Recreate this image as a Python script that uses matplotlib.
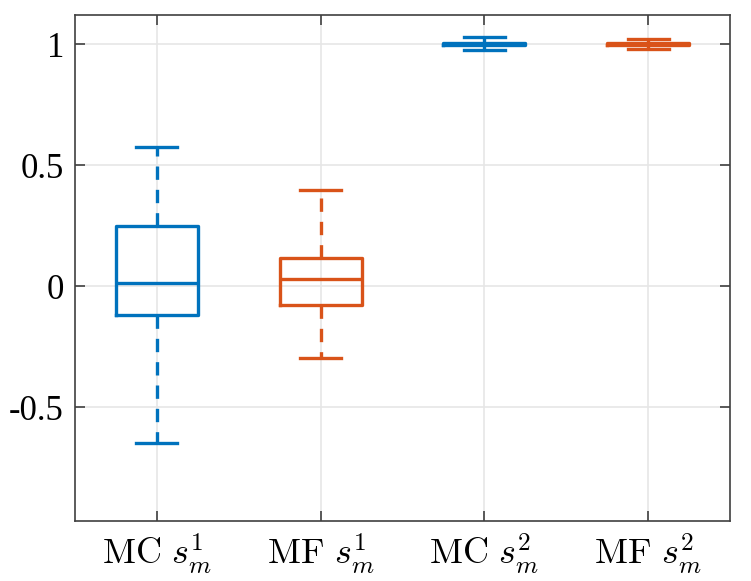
import matplotlib
matplotlib.use("Agg")
from matplotlib import pyplot as plt

# box statistics
labels = [r"$\mathrm{MC}\ s_m^1$", r"$\mathrm{MF}\ s_m^1$",
          r"$\mathrm{MC}\ s_m^2$", r"$\mathrm{MF}\ s_m^2$"]
whislo = [-0.649, -0.295, 0.975, 0.979]
q1 = [-0.120, -0.076, 0.996, 0.997]
med = [0.012, 0.031, 1.000, 1.000]
q3 = [0.248, 0.116, 1.004, 1.003]
whishi = [0.574, 0.397, 1.029, 1.020]
colores = ["#0072BD", "#D95319", "#0072BD", "#D95319"]

plt.rcParams["mathtext.fontset"] = "cm"
plt.rcParams["font.family"] = ["Liberation Serif", "DejaVu Serif"]

fig = plt.figure(figsize=(7.51, 5.81), dpi=100)
ax = fig.add_axes([0.0999, 0.1033, 0.8722, 0.8709])

stats = []
for i in range(len(labels)):
    stats.append(dict(whislo=whislo[i], q1=q1[i], med=med[i], q3=q3[i],
                      whishi=whishi[i], fliers=[], label=labels[i]))

pos = [1, 2, 3, 4]
bp = ax.bxp(stats, positions=pos, widths=0.5, showfliers=False, patch_artist=False)
for i, c in enumerate(colores):
    bp["boxes"][i].set(color=c, linewidth=2.4)
    bp["medians"][i].set(color=c, linewidth=2.4)
    for w in bp["whiskers"][2 * i:2 * i + 2]:
        w.set(color=c, linewidth=2.4, linestyle=(0, (4, 3)))
    for cap in bp["caps"][2 * i:2 * i + 2]:
        cap.set(color=c, linewidth=2.4)

ax.set_xlim(0.5, 4.5)
ax.set_ylim(-0.97, 1.12)
ax.set_yticks([-0.5, 0, 0.5, 1])
ax.set_yticklabels(["-0.5", "0", "0.5", "1"])
ax.set_xticks(pos)
ax.set_xticklabels(labels)
ax.grid(True, color="#e6e6e6", linewidth=1.2)
ax.set_axisbelow(True)
ax.tick_params(direction="in", length=7, width=1.2, color="#404040",
               top=True, right=True, labelsize=25, pad=8)
ax.tick_params(axis="x", labelsize=26)
for s in ax.spines.values():
    s.set_color("#404040")
    s.set_linewidth(1.2)

fig.savefig("out.png", dpi=100)
